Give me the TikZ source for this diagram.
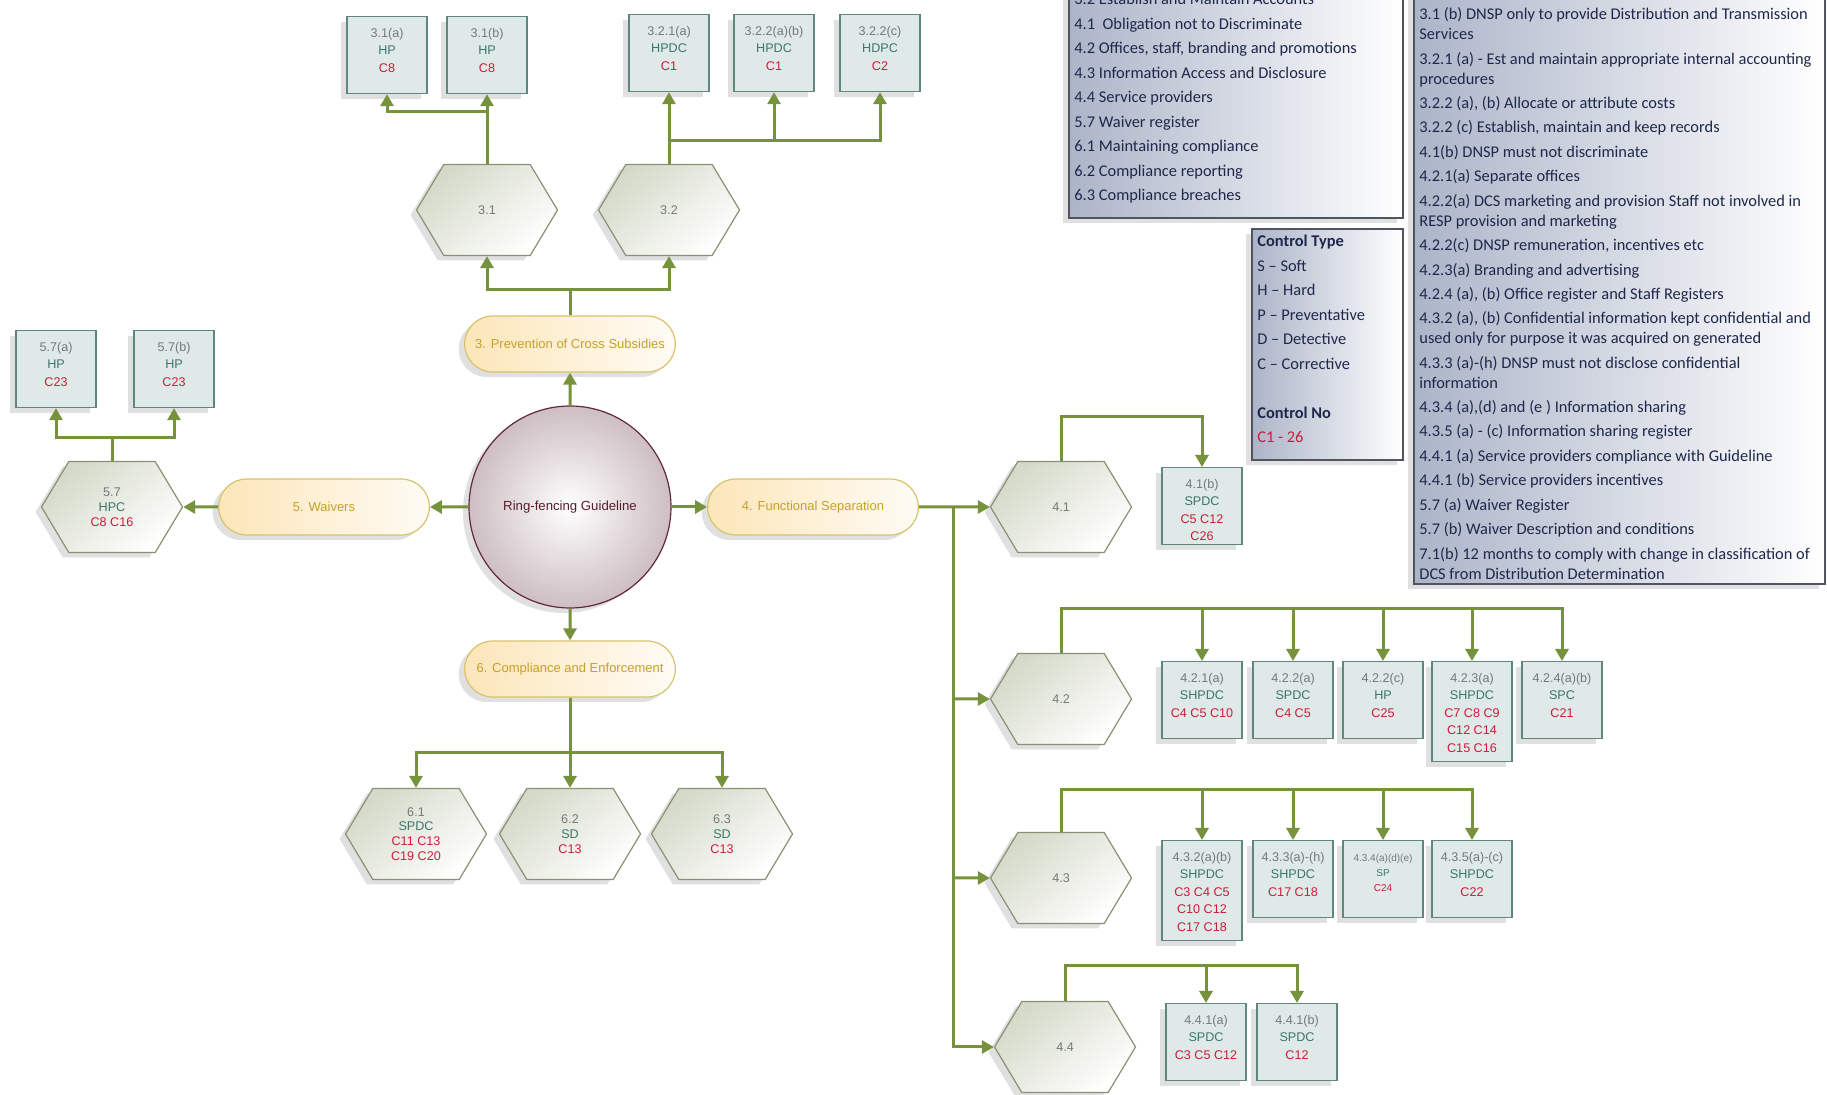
\documentclass[tikz,border=0pt]{standalone}
\usepackage{fontspec}
\setmainfont{Liberation Sans}
\newfontfamily\keyfont{Carlito}
\usetikzlibrary{arrows.meta,shapes.misc,shapes.symbols,shadows}

\definecolor{linkgreen}{RGB}{118,146,60}
\definecolor{boxfill}{RGB}{222,233,232}
\definecolor{boxdraw}{RGB}{95,135,125}
\definecolor{greytxt}{RGB}{115,122,120}
\definecolor{tealtxt}{RGB}{60,118,108}
\definecolor{redtxt}{RGB}{200,30,60}
\definecolor{hexfill}{RGB}{212,217,200}
\definecolor{hexdraw}{RGB}{135,145,115}
\definecolor{pillfill}{RGB}{252,230,185}
\definecolor{pilldraw}{RGB}{215,195,110}
\definecolor{pilltxt}{RGB}{200,160,45}
\definecolor{hubfill}{RGB}{205,190,196}
\definecolor{hubdraw}{RGB}{100,40,55}
\definecolor{hubtxt}{RGB}{90,30,40}
\definecolor{keyfill}{RGB}{172,180,200}
\definecolor{keydraw}{RGB}{80,85,95}
\definecolor{keytxt}{RGB}{30,40,75}

\newcommand\ctype[1]{\textcolor{tealtxt}{#1}}
\newcommand\cnum[1]{\textcolor{redtxt}{#1}}
% first line on the baseline
\newcommand\boxlines[1]{\begin{tabular}[t]{@{}c@{}}#1\end{tabular}}
\newcommand\keylines[1]{\begin{tabular}[t]{@{}l@{}}#1\end{tabular}}

\tikzset{
  shade/.style={drop shadow={shadow xshift=-3pt,shadow yshift=-2.5pt,opacity=.12,fill=black}},
  link/.style={draw=linkgreen, line width=1.5pt, -{Triangle[width=6.5pt,length=6pt]}},
  trunk/.style={draw=linkgreen, line width=1.5pt},
  hub/.style={circle, shade, draw=hubdraw, line width=.6pt, inner color=white, outer color=hubfill,
    minimum size=101pt, text=hubtxt, font=\fontsize{6.6}{8}\selectfont},
  secpill/.style={rounded rectangle, shade, draw=pilldraw, line width=.6pt,
    left color=pillfill, right color=white!85!pillfill, minimum width=112pt, minimum height=28pt,
    text=pilltxt, font=\fontsize{6.5}{8}\selectfont},
  clausehex/.style={signal, signal to=east and west, signal pointer angle=118, shade,
    draw=hexdraw, line width=.6pt, top color=hexfill, bottom color=white, shading angle=40,
    minimum width=70.5pt, minimum height=45.5pt, inner sep=1pt, align=center,
    text=greytxt, font=\fontsize{6.3}{7.4}\selectfont},
  ctlbox/.style={rectangle, shade, draw=boxdraw, line width=.6pt, fill=boxfill, anchor=north,
    minimum width=40pt, inner xsep=1pt, inner ysep=4.2pt, text height=6.1pt, text depth=24pt,
    text=greytxt, font=\fontsize{6.3}{8.75}\selectfont},
  tallbox/.style={ctlbox, text depth=35.5pt},
  keybox/.style={rectangle, shade, draw=keydraw, line width=.8pt, left color=keyfill,
    right color=white, inner sep=0pt},
  keytext/.style={anchor=base west, inner sep=0pt, text=keytxt,
    font=\keyfont\fontsize{8.2}{12.25}\selectfont}
}

\begin{document}
\begin{tikzpicture}[x=0.5pt,y=-0.5pt]
\useasboundingbox (0,0) rectangle (1827,1095);

% keys
\node[keybox, minimum width=167pt, minimum height=119.5pt, anchor=south west] (keyA) at (1068,219) {};
\node[keytext] (keyAtxt) at (1074,5) {\keylines{3.2 Establish and Maintain Accounts\\
4.1\ \ Obligation not to Discriminate\\
4.2 Offices, staff, branding and promotions\\
4.3 Information Access and Disclosure\\
4.4 Service providers\\
5.7 Waiver register\\
6.1 Maintaining compliance\\
6.2 Compliance reporting\\
6.3 Compliance breaches}};

\node[keybox, minimum width=75.5pt, minimum height=115.5pt, anchor=north west] (keyB) at (1251,228) {};
\node[keytext] (keyBtxt) at (1257,247) {\keylines{\textbf{Control Type}\\
S – Soft\\
H – Hard\\
P – Preventative\\
D – Detective\\
C – Corrective\\[12.25pt]
\textbf{Control No}\\
\textcolor{redtxt}{C1 - 26}}};

\node[keybox, minimum width=205.5pt, minimum height=302.5pt, anchor=south west] (keyC) at (1413,585) {};
\node[keytext, font=\keyfont\fontsize{8.2}{9.9}\selectfont] (keyCtxt) at (1419,20) {\keylines{3.1 (b) DNSP only to provide Distribution and Transmission\\
Services\\[2.33pt]
3.2.1 (a) - Est and maintain appropriate internal accounting\\
procedures\\[2.33pt]
3.2.2 (a), (b) Allocate or attribute costs\\[2.33pt]
3.2.2 (c) Establish, maintain and keep records\\[2.33pt]
4.1(b) DNSP must not discriminate\\[2.33pt]
4.2.1(a) Separate offices\\[2.33pt]
4.2.2(a) DCS marketing and provision Staff not involved in\\
RESP provision and marketing\\[2.33pt]
4.2.2(c) DNSP remuneration, incentives etc\\[2.33pt]
4.2.3(a) Branding and advertising\\[2.33pt]
4.2.4 (a), (b) Office register and Staff Registers\\[2.33pt]
4.3.2 (a), (b) Confidential information kept confidential and\\
used only for purpose it was acquired on generated\\[2.33pt]
4.3.3 (a)-(h) DNSP must not disclose confidential\\
information\\[2.33pt]
4.3.4 (a),(d) and (e ) Information sharing\\[2.33pt]
4.3.5 (a) - (c) Information sharing register\\[2.33pt]
4.4.1 (a) Service providers compliance with Guideline\\[2.33pt]
4.4.1 (b) Service providers incentives\\[2.33pt]
5.7 (a) Waiver Register\\[2.33pt]
5.7 (b) Waiver Description and conditions\\[2.33pt]
7.1(b) 12 months to comply with change in classification of\\
DCS from Distribution Determination}};

% centre and sections
\node[hub] (hub) at (570,507) {Ring-fencing Guideline};
\node[secpill] (s3) at (570,344) {3. Prevention of Cross Subsidies};
\node[secpill] (s4) at (813,507) {4. Functional Separation};
\node[secpill] (s5) at (324,507) {5. Waivers};
\node[secpill] (s6) at (570,669) {6. Compliance and Enforcement};

% clauses
\node[clausehex] (c31) at (487,210) {3.1};
\node[clausehex] (c32) at (669,210) {3.2};
\node[clausehex] (c57) at (112,507) {5.7\\\ctype{HPC}\\\cnum{C8 C16}};
\node[clausehex] (c41) at (1061,507) {4.1};
\node[clausehex] (c42) at (1061,699) {4.2};
\node[clausehex] (c43) at (1061,878) {4.3};
\node[clausehex] (c44) at (1065,1047) {4.4};
\node[clausehex] (c61) at (416,834) {6.1\\\ctype{SPDC}\\\cnum{C11 C13}\\\cnum{C19 C20}};
\node[clausehex] (c62) at (570,834) {6.2\\\ctype{SD}\\\cnum{C13}};
\node[clausehex] (c63) at (722,834) {6.3\\\ctype{SD}\\\cnum{C13}};

% controls
\node[ctlbox] (b31a) at (387,16) {\boxlines{3.1(a)\\\ctype{HP}\\\cnum{C8}}};
\node[ctlbox] (b31b) at (487,16) {\boxlines{3.1(b)\\\ctype{HP}\\\cnum{C8}}};
\node[ctlbox] (b321a) at (669,14) {\boxlines{3.2.1(a)\\\ctype{HPDC}\\\cnum{C1}}};
\node[ctlbox] (b322ab) at (774,14) {\boxlines{3.2.2(a)(b)\\\ctype{HPDC}\\\cnum{C1}}};
\node[ctlbox] (b322c) at (880,14) {\boxlines{3.2.2(c)\\\ctype{HDPC}\\\cnum{C2}}};
\node[ctlbox] (b57a) at (56,330) {\boxlines{5.7(a)\\\ctype{HP}\\\cnum{C23}}};
\node[ctlbox] (b57b) at (174,330) {\boxlines{5.7(b)\\\ctype{HP}\\\cnum{C23}}};
\node[ctlbox] (b41b) at (1202,467) {\boxlines{4.1(b)\\\ctype{SPDC}\\\cnum{C5 C12}\\\cnum{C26}}};
\node[ctlbox] (b421a) at (1202,661) {\boxlines{4.2.1(a)\\\ctype{SHPDC}\\\cnum{C4 C5 C10}}};
\node[ctlbox] (b422a) at (1293,661) {\boxlines{4.2.2(a)\\\ctype{SPDC}\\\cnum{C4 C5}}};
\node[ctlbox] (b422c) at (1383,661) {\boxlines{4.2.2(c)\\\ctype{HP}\\\cnum{C25}}};
\node[tallbox] (b423a) at (1472,661) {\boxlines{4.2.3(a)\\\ctype{SHPDC}\\\cnum{C7 C8 C9}\\\cnum{C12 C14}\\\cnum{C15 C16}}};
\node[ctlbox] (b424ab) at (1562,661) {\boxlines{4.2.4(a)(b)\\\ctype{SPC}\\\cnum{C21}}};
\node[tallbox] (b432ab) at (1202,840) {\boxlines{4.3.2(a)(b)\\\ctype{SHPDC}\\\cnum{C3 C4 C5}\\\cnum{C10 C12}\\\cnum{C17 C18}}};
\node[ctlbox] (b433ah) at (1293,840) {\boxlines{4.3.3(a)-(h)\\\ctype{SHPDC}\\\cnum{C17 C18}}};
\node[ctlbox, font=\fontsize{5}{7.5}\selectfont] (b434ade) at (1383,840) {\boxlines{4.3.4(a)(d)(e)\\\ctype{SP}\\\cnum{C24}}};
\node[ctlbox] (b435ac) at (1472,840) {\boxlines{4.3.5(a)-(c)\\\ctype{SHPDC}\\\cnum{C22}}};
\node[ctlbox] (b441a) at (1206,1003) {\boxlines{4.4.1(a)\\\ctype{SPDC}\\\cnum{C3 C5 C12}}};
\node[ctlbox] (b441b) at (1297,1003) {\boxlines{4.4.1(b)\\\ctype{SPDC}\\\cnum{C12}}};

% junctions
\coordinate (j3) at (570,290);
\coordinate (j31) at (487,112);
\coordinate (j32) at (669,141);
\coordinate (j57) at (112,438);
\coordinate (j4) at (953,507);
\coordinate (j41) at (1061,417);
\coordinate (j42) at (1061,609);
\coordinate (j43) at (1061,790);
\coordinate (j44) at (1065,966);
\coordinate (j6) at (570,753);

% section 3
\draw[link] (hub) -- (s3);
\draw[trunk] (s3.north) -- (j3);
\draw[link] (j3) -| (c31.south);
\draw[link] (j3) -| (c32.south);
\draw[link] (c31.north) -- (b31b.south);
\draw[link] (j31) -| (b31a.south);
\draw[link] (c32.north) -- (b321a.south);
\draw[link] (j32) -| (b322ab.south);
\draw[link] (j32) -| (b322c.south);

% section 5
\draw[link] (hub) -- (s5);
\draw[link] (s5) -- (c57);
\draw[trunk] (c57.north) -- (j57);
\draw[link] (j57) -| (b57a.south);
\draw[link] (j57) -| (b57b.south);

% section 4
\draw[link] (hub) -- (s4);
\draw[link] (s4) -- (c41);
\draw[link] (j4) |- (c44);
\draw[link] (j4 |- c42) -- (c42);
\draw[link] (j4 |- c43) -- (c43);
\draw[link] (c41.north) -- (j41) -| (b41b.north);
\draw[link] (c42.north) -- (j42) -| (b424ab.north);
\foreach \b in {b421a,b422a,b422c,b423a}
  \draw[link] (\b.north |- j42) -- (\b.north);
\draw[link] (c43.north) -- (j43) -| (b435ac.north);
\foreach \b in {b432ab,b433ah,b434ade}
  \draw[link] (\b.north |- j43) -- (\b.north);
\draw[link] (c44.north) -- (j44) -| (b441b.north);
\draw[link] (b441a.north |- j44) -- (b441a.north);

% section 6
\draw[link] (hub) -- (s6);
\draw[trunk] (s6.south) -- (j6);
\draw[link] (j6) -| (c61.north);
\draw[link] (j6) -- (c62.north);
\draw[link] (j6) -| (c63.north);

\end{tikzpicture}
\end{document}
